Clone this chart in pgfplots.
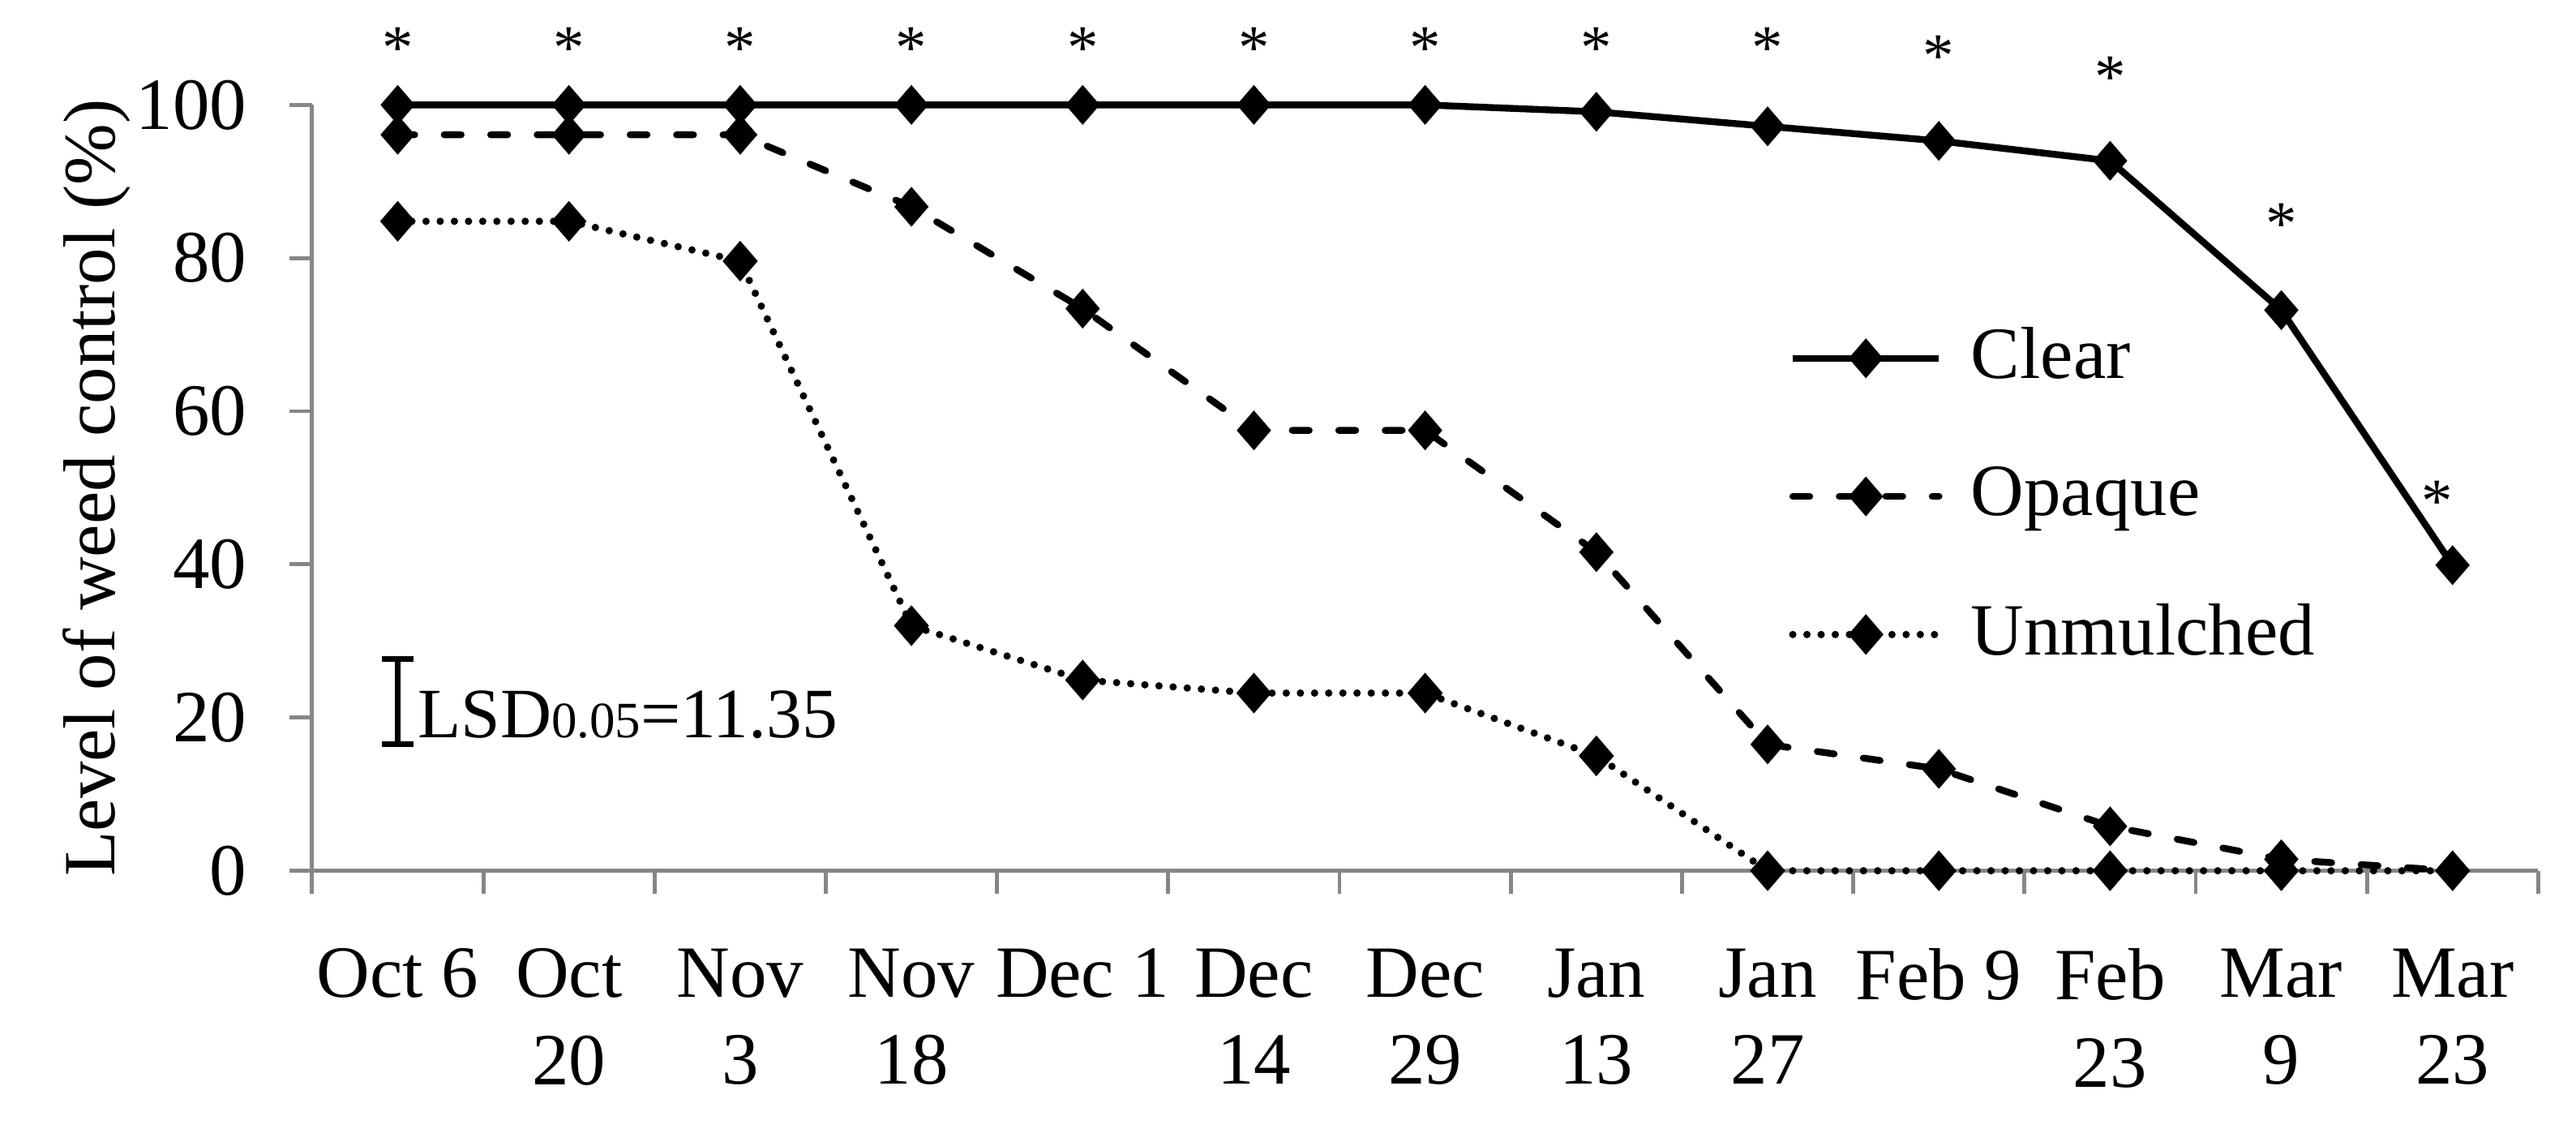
\documentclass[border=0pt]{standalone}
\usepackage{fontspec}
\setmainfont{Liberation Serif}
\usepackage{pgfplots}
\pgfplotsset{compat=1.18}
\definecolor{axgray}{RGB}{134,134,134}
\newcommand{\bigf}{\fontsize{13}{15.4}\selectfont}
\begin{document}
\bigf
\begin{tikzpicture}
\begin{axis}[
  scale only axis, width=392.8pt, height=135.1pt,
  xmin=-0.5, xmax=12.5, ymin=0, ymax=100,
  clip=false,
  axis x line*=bottom, axis y line*=left,
  axis line style={-, axgray, line width=0.7pt},
  ytick={0,20,...,100},
  xtick={0,...,12},
  xticklabels={Oct 6, Oct\\20, Nov\\3, Nov\\18, Dec 1, Dec\\14, Dec\\29, Jan\\13, Jan\\27, Feb 9, Feb\\23, Mar\\9, Mar\\23},
  minor xtick={-0.5,0.5,...,12.5},
  tick align=outside,
  major tick length=4pt, minor tick length=4pt,
  tick style={axgray, line width=0.7pt},
  major x tick style={draw=none},
  xticklabel style={align=center, font=\bigf, yshift=-5.2pt},
  yticklabel style={font=\bigf, xshift=-3pt},
  /pgf/number format/assume math mode=true,
  ylabel={Level of weed control (\%)},
  ylabel style={font=\bigf},
  ylabel shift=-7.8pt,
  legend style={draw=none, fill=none, at={(0.663,0.726)}, anchor=north west, inner sep=0pt, row sep=9.6pt, font=\bigf, cells={anchor=west},
    /tikz/every odd column/.append style={column sep=3pt}},
  legend image code/.code={\draw[mark repeat=2, mark phase=2, #1] plot coordinates {(0pt,0pt) (12.9pt,0pt) (25.8pt,0pt)};},
]
\addplot[black, line width=1.2pt, mark=diamond*, mark size=2.6pt, mark options={solid, xscale=1.15}] coordinates {
 (0,100) (1,100) (2,100) (3,100) (4,100) (5,100) (6,100) (7,99.1) (8,97.2) (9,95.3) (10,92.7) (11,73.2) (12,39.9)};
\addlegendentry{Clear}
\addplot[black, line width=1.2pt, line cap=round, dash pattern=on 3pt off 5.2pt, mark=diamond*, mark size=2.6pt, mark options={solid, xscale=1.15}] coordinates {
 (0,96.1) (1,96.1) (2,96.1) (3,86.7) (4,73.4) (5,57.5) (6,57.5) (7,41.6) (8,16.5) (9,13.3) (10,5.8) (11,1.5) (12,0)};
\addlegendentry{Opaque}
\addplot[black, line width=1.3pt, line cap=round, dash pattern=on 0pt off 2.5pt, mark=diamond*, mark size=2.6pt, mark options={solid, xscale=1.15}] coordinates {
 (0,84.8) (1,84.8) (2,79.6) (3,32.0) (4,24.9) (5,23.2) (6,23.2) (7,15.0) (8,0) (9,0) (10,0) (11,0) (12,0)};
\addlegendentry{Unmulched}
% LSD bar
\addplot[draw=none, mark=none, forget plot,
  error bars/.cd, y dir=both, y explicit,
  error bar style={black, line width=1pt},
  error mark options={rotate=90, black, mark size=2.8pt, line width=1pt}]
  coordinates {(0,22.1) +- (0,5.6)};
% significance stars
\addplot[draw=none, mark=none, forget plot, nodes near coords={*},
  every node near coord/.style={anchor=base, inner sep=0pt, font=\fontsize{11}{13}\selectfont}]
  coordinates {(0,104.8) (1,104.8) (2,104.8) (3,104.8) (4,104.8) (5,104.8) (6,104.8) (7,104.8) (8,104.7) (9,103.7) (10,100.9) (11,81.8) (11.91,45.5)};
\node[anchor=base west, inner sep=0pt, font=\fontsize{12.5}{15}\selectfont] at (axis cs:0.11,17.4) {LSD{\fontsize{9}{10}\selectfont 0.05}=11.35};
\path (rel axis cs:-0.1402,-0.337) rectangle (rel axis cs:1.017,1.137);
\end{axis}
\end{tikzpicture}
\end{document}
